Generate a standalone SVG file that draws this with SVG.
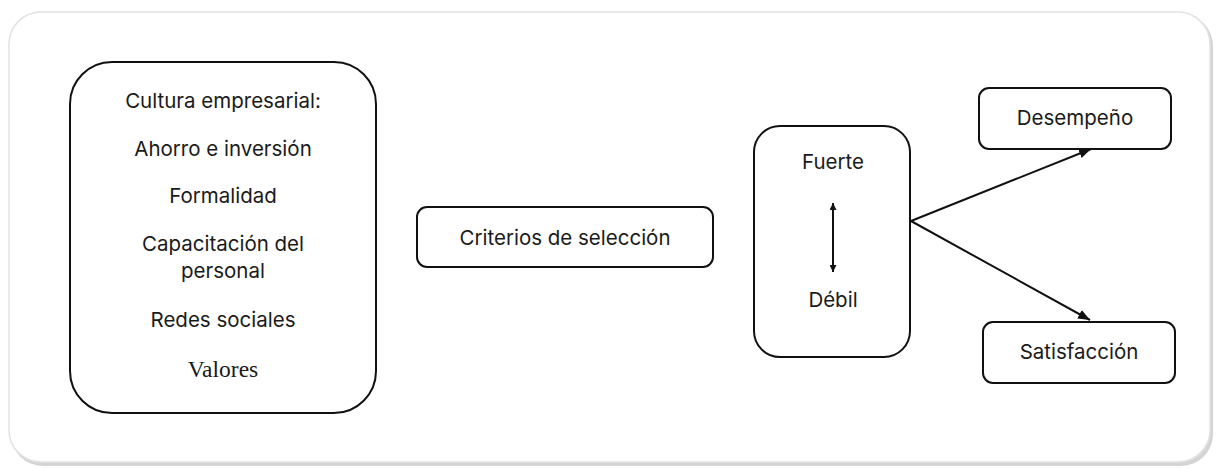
<svg xmlns="http://www.w3.org/2000/svg" width="1217" height="468" viewBox="0 0 1217 468">
<defs>
<marker id="ah" viewBox="0 0 10 10" refX="10" refY="5" markerWidth="7" markerHeight="7" markerUnits="userSpaceOnUse" orient="auto-start-reverse"><path d="M0,0 L10,5 L0,10 z" fill="#111"/></marker>
<marker id="ah2" viewBox="0 0 10 10" refX="10" refY="5" markerWidth="12" markerHeight="12" markerUnits="userSpaceOnUse" orient="auto"><path d="M0,1 L10,5 L0,9 z" fill="#111"/></marker>
</defs>
<style>
.box{fill:#fff;stroke:#111;stroke-width:2}
.t{font-family:Inter,"Liberation Sans",sans-serif;font-size:20.5px;fill:#1a1a1a;text-anchor:middle}
.s{font-family:"Liberation Serif",serif;font-size:23.5px;fill:#1a1a1a;text-anchor:middle}
.c{stroke:#111;stroke-width:2;fill:none}
</style>
<rect width="1217" height="468" fill="#fff"/>
<rect x="11" y="14" width="1202" height="452" rx="32" fill="#d4d4d4"/>
<rect x="9" y="12" width="1201" height="450" rx="32" fill="#fff" stroke="#e2e2e2" stroke-width="1.5"/>
<g id="cultura">
<rect class="box" x="70" y="62" width="306" height="351" rx="42"/>
<text class="t" x="223" y="108">Cultura empresarial:</text>
<text class="t" x="223" y="156">Ahorro e inversión</text>
<text class="t" x="223" y="203">Formalidad</text>
<text class="t" x="223" y="251">Capacitación del</text>
<text class="t" x="223" y="278">personal</text>
<text class="t" x="223" y="327">Redes sociales</text>
<text class="s" x="223" y="377">Valores</text>
</g>
<g id="criterios">
<rect class="box" x="417" y="207" width="296" height="60" rx="10"/>
<text class="t" x="565" y="245">Criterios de selección</text>
</g>
<g id="intensidad">
<rect class="box" x="754" y="126" width="156" height="231" rx="26"/>
<text class="t" x="833" y="169">Fuerte</text>
<text class="t" x="833" y="307">Débil</text>
</g>
<g id="desempeno">
<rect class="box" x="979" y="88" width="192" height="61" rx="10"/>
<text class="t" x="1075" y="125">Desempeño</text>
</g>
<g id="satisfaccion">
<rect class="box" x="983" y="322" width="192" height="61" rx="10"/>
<text class="t" x="1079" y="359">Satisfacción</text>
</g>
<g id="connectors">
<line class="c" x1="833" y1="203" x2="833" y2="272" stroke-width="1.5" marker-start="url(#ah)" marker-end="url(#ah)"/>
<line class="c" x1="911" y1="221" x2="1091" y2="149" marker-end="url(#ah2)"/>
<line class="c" x1="911" y1="221" x2="1090" y2="320" marker-end="url(#ah2)"/>
</g>
</svg>
